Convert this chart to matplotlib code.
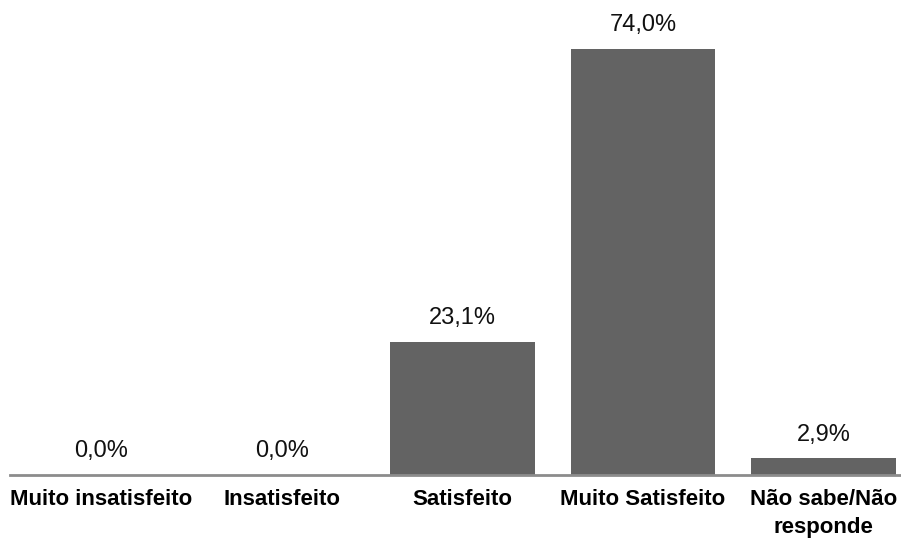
import matplotlib.pyplot as plt

# Satisfaction survey results (percent)
categories = ["Muito insatisfeito", "Insatisfeito", "Satisfeito",
              "Muito Satisfeito", "Não sabe/Não\nresponde"]
values = [0.0, 0.0, 23.1, 74.0, 2.9]
value_labels = ["0,0%", "0,0%", "23,1%", "74,0%", "2,9%"]

plt.rcParams['font.family'] = ['Liberation Sans', 'DejaVu Sans']

fig = plt.figure(figsize=(9.01, 5.42), dpi=100)
ax = fig.add_axes([10 / 901, 1 - 475 / 542, 890 / 901, 461 / 542])

x = range(len(categories))
bars = ax.bar(x, values, width=0.8, color="#636363", zorder=2)

for xi, v, lab in zip(x, values, value_labels):
    ax.annotate(lab, (xi, v), xytext=(0, 9), textcoords="offset points",
                ha="center", va="bottom", fontsize=17, color="#111111",
                annotation_clip=False)

ax.set_xlim(-0.507, 4.424)
ax.set_ylim(0, 80)

for side in ["top", "right", "left"]:
    ax.spines[side].set_visible(False)
ax.spines["bottom"].set_color("#8c8c8c")
ax.spines["bottom"].set_linewidth(2)

ax.set_yticks([])
ax.set_xticks(list(x))
ax.set_xticklabels(categories, fontsize=16, fontweight="bold",
                   linespacing=1.45, va="top")
ax.tick_params(axis="x", length=0, pad=10)

fig.savefig("out.png", dpi=100, facecolor="white")
